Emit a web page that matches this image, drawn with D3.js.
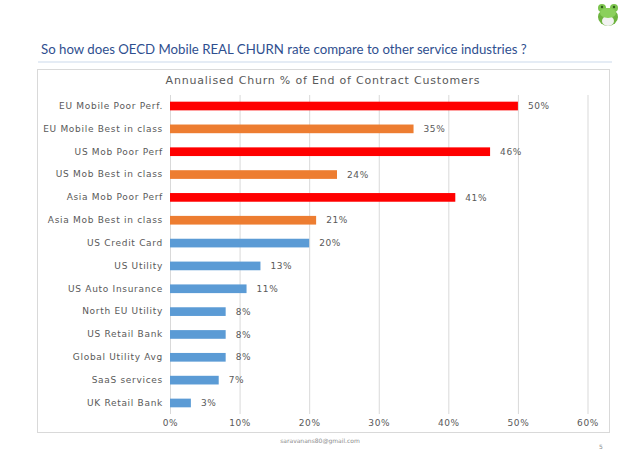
<!DOCTYPE html>
<html>
<head>
<meta charset="utf-8">
<script src="https://cdn.jsdelivr.net/npm/d3@7"></script>
<style>
  html, body { margin: 0; padding: 0; background: #fff; }
  svg { display: block; }
</style>
</head>
<body>
<div id="chart"></div>
<script>
const categories = [
  'EU Mobile Poor Perf.', 'EU Mobile Best in class', 'US Mob Poor Perf',
  'US Mob Best in class', 'Asia Mob Poor Perf', 'Asia Mob Best in class',
  'US Credit Card', 'US Utility', 'US Auto Insurance', 'North EU Utility',
  'US Retail Bank', 'Global Utility Avg', 'SaaS services', 'UK Retail Bank'
];
const churnValues = [50, 35, 46, 24, 41, 21, 20, 13, 11, 8, 8, 8, 7, 3];
const groups = ['poor', 'best', 'poor', 'best', 'poor', 'best',
  'other', 'other', 'other', 'other', 'other', 'other', 'other', 'other'];
const xTicks = [0, 10, 20, 30, 40, 50, 60];

const GROUP_COLORS = { poor: '#FF0000', best: '#ED7D31', other: '#5B9BD5' };
const FONT = 'DejaVu Sans, sans-serif';

const W = 638, H = 452;
const svg = d3.select('#chart').append('svg')
  .attr('width', W).attr('height', H);

// slide heading
const heading = svg.append('text')
  .attr('x', 41).attr('y', 54)
  .attr('font-family', 'Lato, sans-serif')
  .attr('font-size', 14)
  .attr('fill', '#2F4F8F')
  .text('So how does OECD Mobile REAL CHURN rate compare to other service industries ?');
const hw = heading.node().getComputedTextLength();
heading.attr('font-size', 14 * 486 / hw);

svg.append('line')
  .attr('x1', 38).attr('x2', 612).attr('y1', 62).attr('y2', 62)
  .attr('stroke', '#DCE6F2').attr('stroke-width', 1.5);

// frog mascot (top right)
const frog = svg.append('g').attr('transform', 'translate(608,14)');
frog.append('ellipse').attr('cx', 0).attr('cy', 3).attr('rx', 10).attr('ry', 9).attr('fill', '#6DB33F');
frog.append('ellipse').attr('cx', 0).attr('cy', 7).attr('rx', 6).attr('ry', 5).attr('fill', '#F2F2F2');
frog.append('circle').attr('cx', -6).attr('cy', -6).attr('r', 4).attr('fill', '#7CC44E');
frog.append('circle').attr('cx', 6).attr('cy', -6).attr('r', 4).attr('fill', '#7CC44E');
frog.append('ellipse').attr('cx', 0).attr('cy', -1).attr('rx', 8).attr('ry', 5).attr('fill', '#8BD05C');
frog.append('circle').attr('cx', -6).attr('cy', -7).attr('r', 1.2).attr('fill', '#2F5D1A');
frog.append('circle').attr('cx', 6).attr('cy', -7).attr('r', 1.2).attr('fill', '#2F5D1A');

// chart frame
svg.append('rect')
  .attr('x', 37.5).attr('y', 69.5).attr('width', 572).attr('height', 363)
  .attr('fill', '#fff').attr('stroke', '#D9D9D9');

svg.append('text')
  .attr('x', 323).attr('y', 84)
  .attr('text-anchor', 'middle')
  .attr('font-family', FONT)
  .attr('font-size', 11)
  .attr('letter-spacing', 0.8)
  .attr('fill', '#595959')
  .text('Annualised Churn % of End of Contract Customers');

const x = d3.scaleLinear().domain([0, 60]).range([170, 587.5]);
const y = d3.scaleBand().domain(categories).range([94.6, 414.4])
  .paddingInner(0.62).paddingOuter(0.31);

// gridlines
svg.append('g')
  .attr('transform', 'translate(0,414)')
  .call(d3.axisBottom(x).tickValues(xTicks).tickSize(-319).tickFormat(''))
  .call(g => g.select('.domain').remove())
  .call(g => g.selectAll('line').attr('stroke', '#D9D9D9'));

// x tick labels
svg.append('g')
  .attr('transform', 'translate(0,414)')
  .call(d3.axisBottom(x).tickValues(xTicks).tickSize(0).tickPadding(6).tickFormat(d => d + '%'))
  .call(g => g.select('.domain').remove())
  .call(g => g.selectAll('text')
    .attr('font-family', FONT)
    .attr('font-size', 9)
    .attr('letter-spacing', 0.6)
    .attr('fill', '#595959'));

// category labels
svg.append('g')
  .attr('transform', `translate(${x(0)},0)`)
  .call(d3.axisLeft(y).tickSize(0).tickPadding(7))
  .call(g => g.select('.domain').remove())
  .call(g => g.selectAll('text')
    .attr('font-family', FONT)
    .attr('font-size', 9)
    .attr('letter-spacing', 0.7)
    .attr('fill', '#595959'));

const rows = categories.map((c, i) => ({ name: c, value: churnValues[i], group: groups[i] }));

svg.append('g').selectAll('rect')
  .data(rows)
  .join('rect')
  .attr('x', x(0))
  .attr('y', d => y(d.name))
  .attr('width', d => x(d.value) - x(0))
  .attr('height', y.bandwidth())
  .attr('fill', d => GROUP_COLORS[d.group]);

svg.append('g').selectAll('text')
  .data(rows)
  .join('text')
  .attr('x', d => x(d.value) + 10)
  .attr('y', d => y(d.name) + y.bandwidth() / 2)
  .attr('dy', '0.35em')
  .attr('font-family', FONT)
  .attr('font-size', 9)
  .attr('letter-spacing', 0.6)
  .attr('fill', '#595959')
  .text(d => d.value + '%');

// footer
svg.append('text')
  .attr('x', 320).attr('y', 443)
  .attr('text-anchor', 'middle')
  .attr('font-family', FONT)
  .attr('font-size', 6)
  .attr('fill', '#8C8C8C')
  .text('saravanans80@gmail.com');

svg.append('text')
  .attr('x', 601).attr('y', 449)
  .attr('text-anchor', 'middle')
  .attr('font-family', FONT)
  .attr('font-size', 6)
  .attr('fill', '#8C8C8C')
  .text('5');
</script>
</body>
</html>
